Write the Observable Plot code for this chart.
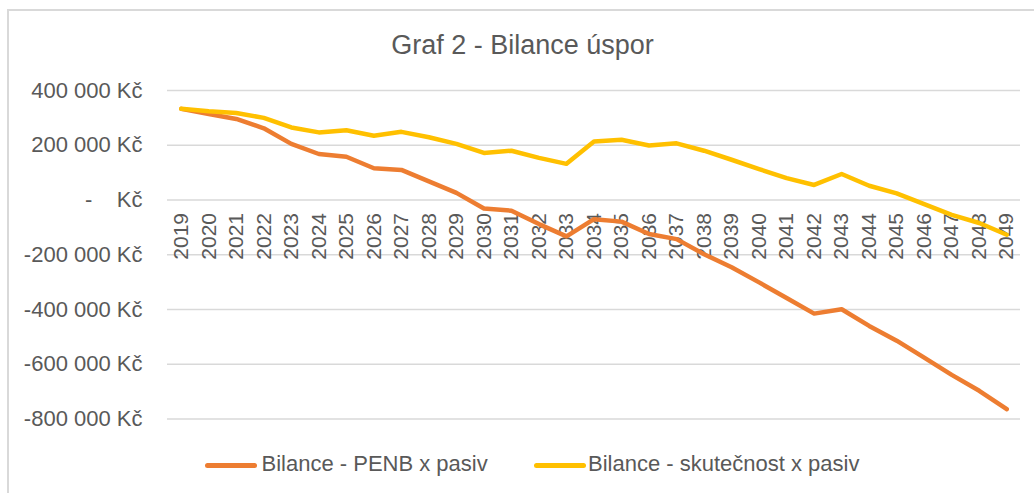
<!DOCTYPE html>
<html>
<head>
<meta charset="utf-8">
<script src="https://cdn.jsdelivr.net/npm/d3@7"></script>
<script src="https://cdn.jsdelivr.net/npm/@observablehq/plot@0.6"></script>
<style>
  html, body { margin: 0; padding: 0; background: #fff; }
  body { width: 1034px; height: 493px; position: relative; overflow: hidden; font-family: "Liberation Sans", Arial, sans-serif; }
  #frame { position: absolute; left: 7px; top: 9px; width: 1100px; height: 600px; border-left: 2px solid #d9d9d9; border-top: 2px solid #d9d9d9; box-sizing: border-box; }
  #title { position: absolute; left: 0; top: 32px; width: 1045px; text-align: center; font-size: 27px; line-height: 27px; color: #595959; white-space: nowrap; }
  #chart { position: absolute; left: 0; top: 65px; }
  #legend { position: absolute; left: 0; top: 453px; width: 1034px; height: 24px; font-size: 22px; line-height: 22px; color: #595959; }
  .sw { position: absolute; top: 10px; height: 5px; border-radius: 3px; }
  .lbl { position: absolute; top: 0; white-space: nowrap; }
</style>
</head>
<body>
<div id="frame"></div>
<div id="title">Graf 2 - Bilance úspor</div>
<div id="chart"></div>
<div id="legend"></div>
<script>
const years = [2019, 2020, 2021, 2022, 2023, 2024, 2025, 2026, 2027, 2028,
               2029, 2030, 2031, 2032, 2033, 2034, 2035, 2036, 2037, 2038,
               2039, 2040, 2041, 2042, 2043, 2044, 2045, 2046, 2047, 2048, 2049];

const penb = [333000, 314000, 296000, 262000, 205000, 168000, 158000, 116000, 110000, 68000,
              26000, -31000, -39000, -88000, -133000, -70000, -79000, -124000, -143000, -198000,
              -246000, -301000, -358000, -415000, -399000, -460000, -514000, -576000, -639000, -697000,
              -764000];

const skutecnost = [333000, 324000, 318000, 300000, 265000, 247000, 255000, 235000, 249000, 229000,
                    205000, 172000, 180000, 154000, 132000, 214000, 220000, 199000, 207000, 180000,
                    147000, 113000, 80000, 55000, 95000, 52000, 24000, -15000, -54000, -84000,
                    -127000];

const seriesNames = ["Bilance - PENB x pasiv", "Bilance - skutečnost x pasiv"];
const seriesColors = ["#ED7D31", "#FFC000"];

const yTicks = [400000, 200000, 0, -200000, -400000, -600000, -800000];

function fmtKc(v) {
  if (v === 0) return "-\u00a0\u00a0\u00a0\u00a0Kč";
  const s = d3.format(",")(Math.abs(v)).replace(/,/g, " ");
  return (v < 0 ? "-" : "") + s + " Kč";
}

const rowsPenb = years.map((y, i) => ({year: y, value: penb[i]}));
const rowsSkut = years.map((y, i) => ({year: y, value: skutecnost[i]}));

const chart = Plot.plot({
  width: 1034,
  height: 375,
  marginTop: 25,
  marginBottom: 21.5,
  marginLeft: 167,
  marginRight: 14,
  style: {fontFamily: "'Liberation Sans', Arial, sans-serif", background: "transparent", overflow: "visible"},
  x: {type: "point", domain: years, padding: 0.5, round: false, axis: null},
  y: {domain: [-800000, 400000], axis: null},
  marks: [
    Plot.ruleY(yTicks, {stroke: "#d9d9d9", strokeWidth: 1.5}),
    Plot.axisY(yTicks, {tickSize: 0, tickPadding: 25, tickFormat: fmtKc, fontSize: 22, color: "#595959", label: null}),
    Plot.text(years, {x: d => d, y: () => 0, text: d => String(d), rotate: -90, textAnchor: "end", lineAnchor: "middle", dy: 13, fontSize: 21, fill: "#595959"}),
    Plot.line(rowsPenb, {x: "year", y: "value", stroke: seriesColors[0], strokeWidth: 4.5, strokeLinejoin: "round", strokeLinecap: "round"}),
    Plot.line(rowsSkut, {x: "year", y: "value", stroke: seriesColors[1], strokeWidth: 4.5, strokeLinejoin: "round", strokeLinecap: "round"})
  ]
});
document.getElementById("chart").appendChild(chart);

// legend
const legend = document.getElementById("legend");
const legendPos = [{sw: 205, lbl: 261.5}, {sw: 534, lbl: 588}];
seriesNames.forEach((name, i) => {
  const sw = document.createElement("div");
  sw.className = "sw";
  sw.style.left = legendPos[i].sw + "px";
  sw.style.width = "52px";
  sw.style.background = seriesColors[i];
  legend.appendChild(sw);
  const lbl = document.createElement("div");
  lbl.className = "lbl";
  lbl.style.left = legendPos[i].lbl + "px";
  lbl.textContent = name;
  legend.appendChild(lbl);
});
</script>
</body>
</html>
